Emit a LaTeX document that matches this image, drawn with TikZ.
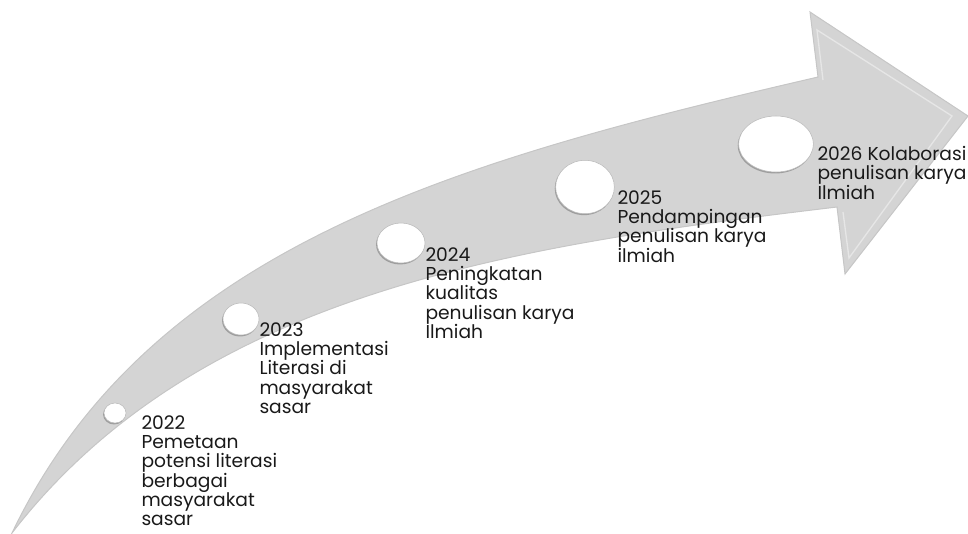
\documentclass[tikz,border=0pt]{standalone}
\usepackage{fontspec}
\setmainfont{Poppins}
\usetikzlibrary{shapes.geometric,shadows}

\tikzset{every picture/.style={line width=0.75pt}}
\tikzset{
  bubble/.style={ellipse, inner sep=0pt, fill=white,
    draw={rgb, 255:red, 185; green, 185; blue, 185 }, line width=0.4pt,
    drop shadow={shadow xshift=-0.7pt, shadow yshift=-1.1pt, opacity=0.55, fill=black!55}},
  milestone/.style={anchor=north west, inner sep=0pt, align=left,
    font=\fontsize{14}{14.45}\selectfont, color={rgb, 255:red, 25; green, 25; blue, 25 }}
}

\begin{document}
\begin{tikzpicture}[x=0.75pt,y=0.75pt,yscale=-1,xscale=1]
\useasboundingbox (0,0) rectangle (968,533);

%Shape: Curved Right Arrow [id:arrowbody]
\draw [color={rgb, 255:red, 198; green, 198; blue, 198 }  ,fill={rgb, 255:red, 212; green, 212; blue, 212 }  ,line width=0.75]
  (12,533) .. controls (150,245) and (460,160) .. (818,77) -- (810,12) -- (968,116) -- (845,274) -- (837,207) .. controls (520,245) and (200,290) .. (12,533) -- cycle ;
%Bevel of the head
\draw [color={rgb, 255:red, 230; green, 230; blue, 230 }  ,line width=1]   (823,80) -- (817,30) -- (952,116) -- (849,258) -- (843,212) ;

%Shape: Circle [id:y22] 
\node [bubble, minimum width=16.5pt, minimum height=15pt] (y22) at (115,413) {};
%Shape: Circle [id:y23] 
\node [bubble, minimum width=27pt, minimum height=24pt] (y23) at (241,319) {};
%Shape: Circle [id:y24] 
\node [bubble, minimum width=36pt, minimum height=30pt] (y24) at (401,243) {};
%Shape: Circle [id:y25] 
\node [bubble, minimum width=44pt, minimum height=40pt] (y25) at (585,187) {};
%Shape: Circle [id:y26] 
\node [bubble, minimum width=56pt, minimum height=42pt] (y26) at (776,144) {};

% Text Node
\node [milestone] (t22) at (141,415) {2022\\Pemetaan\\potensi literasi\\berbagai\\masyarakat\\sasar};
% Text Node
\node [milestone] (t23) at (259,322) {2023\\Implementasi\\Literasi di\\masyarakat\\sasar};
% Text Node
\node [milestone] (t24) at (425,247) {2024\\Peningkatan\\kualitas\\penulisan karya\\Ilmiah};
% Text Node
\node [milestone] (t25) at (617,190) {2025\\Pendampingan\\penulisan karya\\ilmiah};
% Text Node
\node [milestone] (t26) at (817,146) {2026 Kolaborasi\\penulisan karya\\Ilmiah};

\end{tikzpicture}
\end{document}
